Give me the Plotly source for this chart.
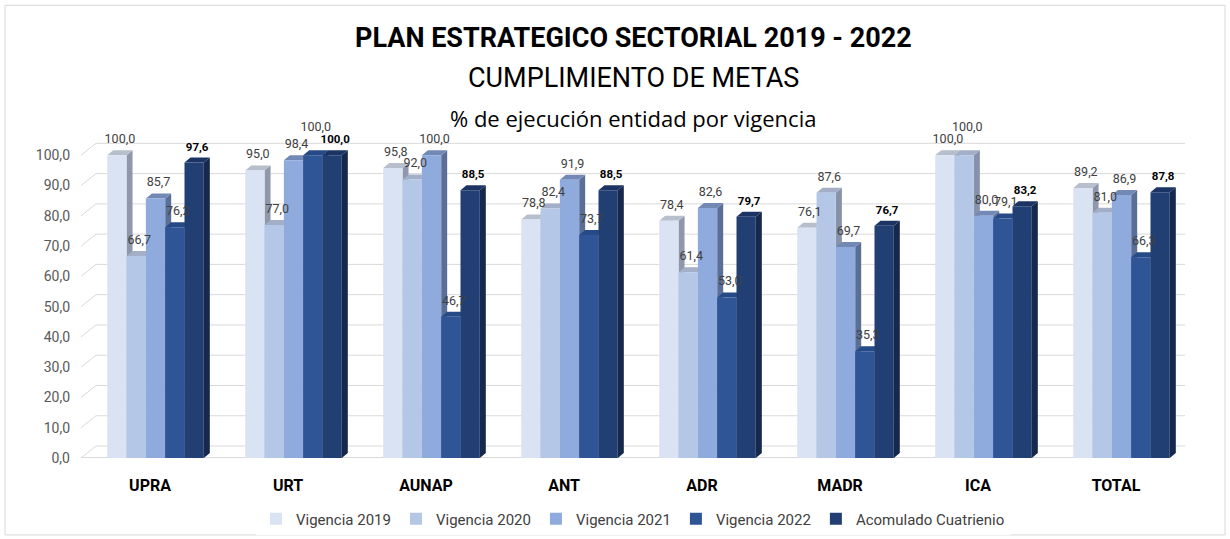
import plotly.graph_objects as go

categories = ["UPRA", "URT", "AUNAP", "ANT", "ADR", "MADR", "ICA", "TOTAL"]
series_names = ["Vigencia 2019", "Vigencia 2020", "Vigencia 2021", "Vigencia 2022", "Acomulado Cuatrienio"]
v2019 = [100.0, 95.0, 95.8, 78.8, 78.4, 76.1, 100.0, 89.2]
v2020 = [66.7, 77.0, 92.0, 82.4, 61.4, 87.6, 100.0, 81.0]
v2021 = [85.7, 98.4, 100.0, 91.9, 82.6, 69.7, 80.0, 86.9]
v2022 = [76.2, 100.0, 46.7, 73.7, 53.0, 35.3, 79.1, 66.3]
acum = [97.6, 100.0, 88.5, 88.5, 79.7, 76.7, 83.2, 87.8]
yticks = [0, 10, 20, 30, 40, 50, 60, 70, 80, 90, 100]

series = [v2019, v2020, v2021, v2022, acum]
front = ["#DAE3F3", "#B4C7E7", "#8FAADC", "#2F5597", "#223F73"]
side = ["#8E98AA", "#8592AA", "#5B6F96", "#1F3A69", "#16284B"]
top = ["#B7BFCC", "#A2AFC6", "#7389B5", "#264A86", "#1C3463"]

W, H = 1230, 539
L, R = 81, 1185          # plot area pixels
B = 458                  # pixel of y = 0
uy = 318 / 105.0         # px per y unit (100 -> ~155 px)
YMAX = 112.0
T = B - YMAX * uy
xr = (-0.5, 7.5)
ux = (R - L) / (xr[1] - xr[0])   # px per x unit

def paper_x(px):
    return (px - L) / (R - L)

def paper_y(py):
    return (B - py) / (B - T)

w = 0.14
shift = 0.04
d = 6 / ux       # bar depth in x units
dy = 5 / uy      # bar depth in y units
dxw = 15 / ux    # wall depth
dyw = 12 / uy
lab_off = 4 / uy
raise_off = 12 / uy   # lift for labels that would collide with their left neighbour

FONT = "Roboto, Liberation Sans, sans-serif"

fig = go.Figure()
shapes = []

# back wall gridlines
for v in yticks:
    shapes.append(dict(type="path", layer="below", xref="x", yref="y",
                       path=f"M {xr[0]},{v} L {xr[0]+dxw},{v+dyw} L {xr[1]},{v+dyw}",
                       line=dict(color="#D9D9D9", width=1)))
# floor front line
shapes.append(dict(type="line", layer="below", xref="x", yref="y",
                   x0=xr[0], x1=xr[1] - dxw, y0=0, y1=0,
                   line=dict(color="#D9D9D9", width=2)))

# bar fronts + 3D faces
for k, (name, vals) in enumerate(zip(series_names, series)):
    xs = [i + shift + (k - 2) * w for i in range(len(categories))]
    fig.add_trace(go.Bar(x=xs, y=vals, width=w, name=name,
                         marker=dict(color=front[k], line=dict(width=0)),
                         hoverinfo="skip"))
for i in range(len(categories)):
    for k, vals in enumerate(series):
        xc = i + shift + (k - 2) * w
        x0, x1, v = xc - w / 2, xc + w / 2, vals[i]
        shapes.append(dict(type="path", layer="between", xref="x", yref="y",
                           path=f"M {x1},0 L {x1},{v} L {x1+d},{v+dy} L {x1+d},{dy} Z",
                           fillcolor=side[k], line=dict(width=0)))
        shapes.append(dict(type="path", layer="between", xref="x", yref="y",
                           path=f"M {x0},{v} L {x1},{v} L {x1+d},{v+dy} L {x0+d},{v+dy} Z",
                           fillcolor=top[k], line=dict(width=0)))

# label lifts: avoid collision with the neighbouring label on the left,
# unless the lifted label would then hit the label on the right
n = len(categories)
lift = [[0.0] * n for _ in series]
for i in range(n):
    for k in range(1, len(series)):
        close_left = abs(series[k][i] - series[k - 1][i]) < 3.0 and lift[k - 1][i] == 0.0
        hits_right = (k + 1 < len(series)
                      and abs(series[k][i] + raise_off - series[k + 1][i]) < 3.0)
        if close_left and not hits_right:
            lift[k][i] = raise_off

# data labels
for k, vals in enumerate(series):
    xs = [i + shift + (k - 2) * w + d / 2 for i in range(n)]
    ys = [v + dy + lab_off + lift[k][i] for i, v in enumerate(vals)]
    bold = k == 4
    fig.add_trace(go.Scatter(
        x=xs, y=ys, mode="text", showlegend=False, hoverinfo="skip",
        text=[f"{v:.1f}".replace(".", ",") for v in vals],
        textposition="top center",
        texttemplate="<b>%{text}</b>" if bold else "%{text}",
        textfont=dict(family=FONT, size=11.5 if bold else 12.5,
                      color="#000000" if bold else "#404040"),
        cliponaxis=False))

# chart border
shapes.append(dict(type="rect", xref="paper", yref="paper",
                   x0=paper_x(5), x1=paper_x(1225), y0=paper_y(535), y1=paper_y(5),
                   line=dict(color="#D9D9D9", width=1), layer="below"))

annotations = [
    dict(text="<b>PLAN ESTRATEGICO SECTORIAL 2019 - 2022</b>", x=0.5, xref="paper",
         xanchor="center", y=paper_y(38), yref="paper", yanchor="middle", showarrow=False,
         font=dict(family=FONT, size=27, color="#000000")),
    dict(text="CUMPLIMIENTO DE METAS", x=0.5, xref="paper",
         xanchor="center", y=paper_y(78), yref="paper", yanchor="middle", showarrow=False,
         font=dict(family=FONT, size=27, color="#000000")),
    dict(text="% de ejecución entidad por vigencia", x=0.5, xref="paper",
         xanchor="center", y=paper_y(118), yref="paper", yanchor="middle", showarrow=False,
         font=dict(family="Open Sans, Noto Sans, sans-serif", size=22, color="#000000")),
]

fig.update_layout(
    width=W, height=H,
    margin=dict(l=L, r=W - R, t=T, b=H - B, pad=0, autoexpand=False),
    paper_bgcolor="white", plot_bgcolor="rgba(0,0,0,0)",
    barmode="overlay",
    shapes=shapes, annotations=annotations,
    separators=",.",
    xaxis=dict(range=list(xr), tickvals=list(range(n)), ticktext=categories,
               showgrid=False, zeroline=False, showline=False, ticks="",
               ticklabelstandoff=16, automargin=False,
               tickfont=dict(family=FONT, size=16, color="#000000", weight="bold")),
    yaxis=dict(range=[0, YMAX], tickvals=yticks,
               ticktext=[f"{v:.1f}".replace(".", ",") for v in yticks],
               showgrid=False, zeroline=False, showline=False, ticks="",
               ticklabelstandoff=10, automargin=False,
               tickfont=dict(family=FONT, size=14, color="#595959")),
    legend=dict(orientation="h", x=0.5, xanchor="center", y=paper_y(519), yanchor="middle",
                font=dict(family=FONT, size=15, color="#404040"),
                itemwidth=30, tracegroupgap=0),
    showlegend=True,
)

fig.write_html("out.html")
